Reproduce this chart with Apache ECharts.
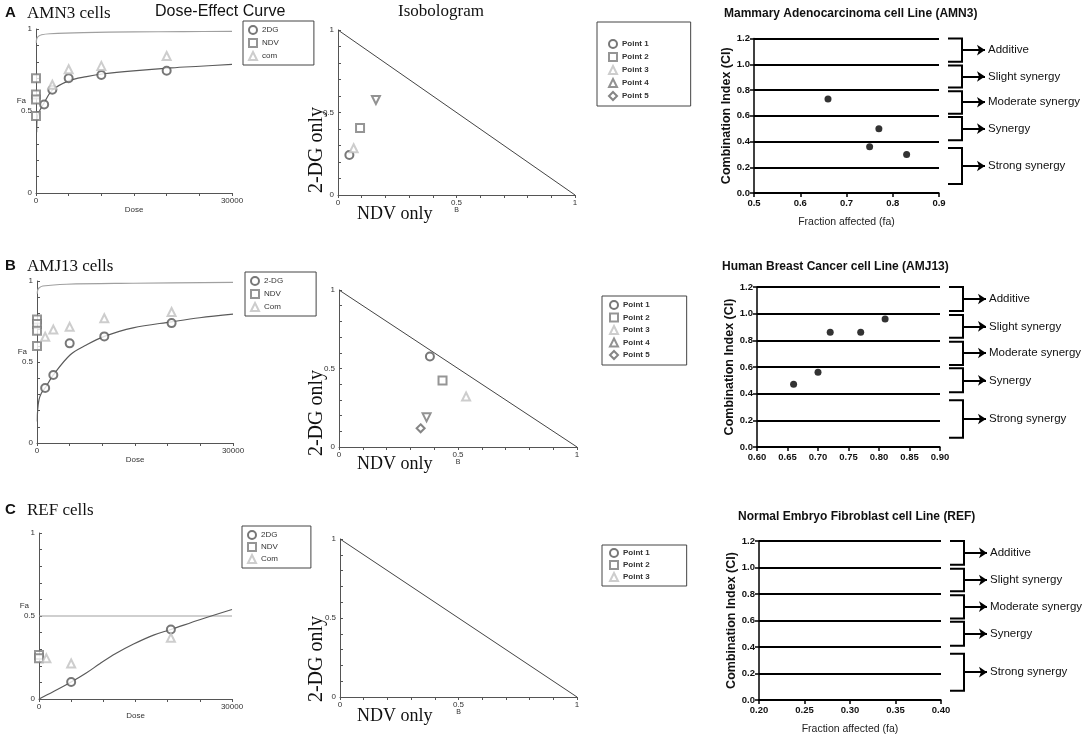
<!DOCTYPE html>
<html>
<head>
<meta charset="utf-8">
<script src="https://cdn.jsdelivr.net/npm/echarts@6/dist/echarts.min.js"></script>
<style>
html, body { margin: 0; padding: 0; background: #fff; }
#chart { width: 1084px; height: 742px; }
</style>
</head>
<body>
<div id="chart"></div>
<script>
// ---- dose-effect data (dose, Fa) ----
var amn3Dg = [[1250, 0.54], [2500, 0.63], [5000, 0.70], [10000, 0.72], [20000, 0.745]];
var amn3Ndv = [[0, 0.70], [0, 0.60], [0, 0.57], [0, 0.47]];
var amn3Com = [[2500, 0.66], [5000, 0.755], [10000, 0.775], [20000, 0.835]];
var amn3Fit = [[100, 0.37], [200, 0.465], [600, 0.505], [1250, 0.55], [2500, 0.627], [5000, 0.684], [7750, 0.71], [10400, 0.727], [14900, 0.745], [20700, 0.763], [25100, 0.773], [30000, 0.784]];
var amn3Upper = [[50, 0.914], [100, 0.939], [360, 0.955], [870, 0.965], [2150, 0.971], [7250, 0.978], [14900, 0.982], [22600, 0.984], [30000, 0.986]];

var amj13Dg = [[1250, 0.34], [2500, 0.42], [5000, 0.615], [10300, 0.658], [20600, 0.74]];
var amj13Ndv = [[0, 0.762], [0, 0.734], [0, 0.693], [0, 0.598]];
var amj13Com = [[1250, 0.656], [2500, 0.70], [5000, 0.717], [10300, 0.77], [20600, 0.809]];
var amj13Fit = [[50, 0.133], [100, 0.205], [300, 0.266], [660, 0.307], [1250, 0.34], [2500, 0.42], [5100, 0.545], [7550, 0.605], [10300, 0.658], [14700, 0.711], [20600, 0.748], [24900, 0.773], [30000, 0.795]];
var amj13Upper = [[50, 0.922], [100, 0.943], [300, 0.957], [900, 0.969], [4500, 0.98], [14700, 0.986], [30000, 0.992]];

var refDg = [[5000, 0.102], [20500, 0.419]];
var refNdv = [[0, 0.265], [0, 0.245]];
var refCom = [[1150, 0.245], [5000, 0.214], [20500, 0.369]];
var refFit = [[0, 0], [2200, 0.044], [5000, 0.102], [7400, 0.158], [9500, 0.214], [12000, 0.275], [14700, 0.331], [17800, 0.385], [20500, 0.419], [25100, 0.479], [30000, 0.539]];
var refUpper = [[0, 0.5], [30000, 0.5]];

// ---- isobologram points (NDV fraction, 2-DG fraction) ----
var amn3IsoNdv = [0.048, 0.093, 0.066, 0.16];
var amn3IsoDg = [0.242, 0.406, 0.283, 0.576];
var amj13IsoNdv = [0.382, 0.435, 0.534, 0.368, 0.343];
var amj13IsoDg = [0.576, 0.424, 0.322, 0.189, 0.119];
var refIsoNdv = [];
var refIsoDg = [];
var additivity = [[0, 1], [1, 0]];

// ---- combination index ----
var amn3Fa = [0.66, 0.77, 0.75, 0.83];
var amn3Ci = [0.73, 0.50, 0.36, 0.30];
var amj13Fa = [0.66, 0.70, 0.72, 0.77, 0.81];
var amj13Ci = [0.47, 0.56, 0.86, 0.86, 0.96];
var refFa = [];
var refCi = [];

var bandLabels = ['Additive', 'Slight synergy', 'Moderate synergy', 'Synergy', 'Strong synergy'];
var bandTop = [1.2, 0.99, 0.79, 0.59, 0.35];
var bandBottom = [1.02, 0.82, 0.615, 0.41, 0.07];
var bandArrow = [1.11, 0.905, 0.705, 0.5, 0.21];

var SANS = '"Liberation Sans", Arial, sans-serif';
var SERIF = '"Liberation Serif", "Times New Roman", serif';

var grid = [], xAxis = [], yAxis = [], series = [], legend = [], title = [], graphic = [];

function keepLabels(keep) {
  return function (v) {
    for (var i = 0; i < keep.length; i++) {
      if (Math.abs(v - keep[i]) < 1e-6) return String(keep[i]);
    }
    return '';
  };
}

function smallAxis(gi, opts) {
  return Object.assign({
    gridIndex: gi, type: 'value', nameMoveOverlap: false,
    axisLine: { lineStyle: { color: '#555', width: 1 } },
    axisTick: { length: 3, lineStyle: { color: '#555' } },
    axisLabel: { fontSize: 8, color: '#333', fontFamily: SANS, margin: 4 },
    splitLine: { show: false },
    nameTextStyle: { fontSize: 8, color: '#333', fontFamily: SANS }
  }, opts);
}

function addGrid(box) {
  grid.push({ left: box[0], top: box[1], width: box[2], height: box[3] });
  return grid.length - 1;
}

function addDosePanel(box, names, dg, ndv, com, fit, upper, lg) {
  var gi = addGrid(box);
  var xa = smallAxis(gi, { min: 0, max: 30000, interval: 5000, name: 'Dose', nameLocation: 'middle', nameGap: 13 });
  xa.axisLabel = Object.assign({}, xa.axisLabel, { formatter: keepLabels([0, 30000]) });
  var ya = smallAxis(gi, {
    min: 0, max: 1, interval: 0.1, name: 'Fa', nameLocation: 'middle', nameRotate: 0, nameGap: 10,
    nameTextStyle: { fontSize: 8, color: '#333', fontFamily: SANS, verticalAlign: 'bottom', padding: [0, 0, 6, 0] }
  });
  ya.axisTick = { inside: true, length: 3, lineStyle: { color: '#555' } };
  ya.axisLabel = Object.assign({}, ya.axisLabel, { formatter: keepLabels([0, 0.5, 1]) });
  xAxis.push(xa); yAxis.push(ya);
  series.push({ type: 'line', xAxisIndex: gi, yAxisIndex: gi, data: upper, symbol: 'none', smooth: 0.35, lineStyle: { color: '#a0a0a0', width: 1.2 }, silent: true, z: 2 });
  series.push({ type: 'line', xAxisIndex: gi, yAxisIndex: gi, data: fit, symbol: 'none', smooth: 0.35, lineStyle: { color: '#5a5a5a', width: 1.2 }, silent: true, z: 2 });
  var styles = [['emptyCircle', '#555', dg], ['emptyRect', '#7a7a7a', ndv], ['emptyTriangle', '#c0c0c0', com]];
  styles.forEach(function (s, k) {
    series.push({ type: 'scatter', name: names[k], xAxisIndex: gi, yAxisIndex: gi, data: s[2], symbol: s[0], symbolSize: 8, itemStyle: { color: s[1] }, z: 3 });
  });
  legend.push({
    left: lg[0], top: lg[1], orient: 'vertical', data: names, itemWidth: 8, itemHeight: 8, itemGap: lg[2],
    padding: [4, lg[3], 4, 5], borderColor: '#444', borderWidth: 1, selectedMode: false,
    textStyle: { fontSize: 8, color: '#333', fontFamily: SANS }
  });
}

var isoStyles = [['emptyCircle', '#555', 0], ['emptyRect', '#7a7a7a', 0], ['emptyTriangle', '#c0c0c0', 0], ['emptyTriangle', '#777', 180], ['emptyDiamond', '#666', 0]];

function addIsoPanel(box, ndv, dg, count, lg) {
  var gi = addGrid(box);
  var xa = smallAxis(gi, { min: 0, max: 1, interval: 0.1, name: 'B', nameLocation: 'middle', nameGap: 12, nameTextStyle: { fontSize: 7, color: '#333', fontFamily: SANS } });
  xa.axisLabel = Object.assign({}, xa.axisLabel, { formatter: keepLabels([0, 0.5, 1]) });
  var ya = smallAxis(gi, { min: 0, max: 1, interval: 0.1 });
  ya.axisTick = { inside: true, length: 3, lineStyle: { color: '#555' } };
  ya.axisLabel = Object.assign({}, ya.axisLabel, { formatter: keepLabels([0, 0.5, 1]) });
  xAxis.push(xa); yAxis.push(ya);
  series.push({ type: 'line', xAxisIndex: gi, yAxisIndex: gi, data: additivity, symbol: 'none', lineStyle: { color: '#444', width: 1 }, silent: true });
  var names = [];
  for (var k = 0; k < count; k++) {
    var s = isoStyles[k];
    names.push('Point ' + (k + 1));
    series.push({
      type: 'scatter', name: 'Point ' + (k + 1), xAxisIndex: gi, yAxisIndex: gi,
      data: k < ndv.length ? [[ndv[k], dg[k]]] : [],
      symbol: s[0], symbolRotate: s[2], symbolSize: 8, itemStyle: { color: s[1] }, z: 3
    });
  }
  legend.push({
    left: lg[0], top: lg[1], orient: 'vertical', data: names, itemWidth: 8, itemHeight: 8, itemGap: lg[2],
    padding: lg[3], borderColor: '#444', borderWidth: 1, selectedMode: false,
    textStyle: { fontSize: 8, fontWeight: 'bold', color: '#333', fontFamily: SANS }
  });
}

function addCiPanel(box, range, digits, fa, ci, showXName, heading) {
  var gi = addGrid(box);
  xAxis.push({
    gridIndex: gi, type: 'value', min: range[0], max: range[1], interval: range[2], nameMoveOverlap: false,
    name: showXName ? 'Fraction affected (fa)' : '', nameLocation: 'middle', nameGap: 24,
    nameTextStyle: { fontSize: 10.5, color: '#222', fontFamily: SANS },
    axisLine: { lineStyle: { color: '#000', width: 1.5 } },
    axisTick: { length: 4, lineStyle: { color: '#000', width: 1.5 } },
    axisLabel: { fontSize: 9.5, fontWeight: 'bold', color: '#111', fontFamily: SANS, margin: 5, formatter: function (v) { return v.toFixed(digits); } },
    splitLine: { show: false }
  });
  yAxis.push({
    gridIndex: gi, type: 'value', min: 0, max: 1.2, interval: 0.2, nameMoveOverlap: false,
    name: 'Combination Index (CI)', nameLocation: 'middle', nameGap: 21,
    nameTextStyle: { fontSize: 12.5, fontWeight: 'bold', color: '#111', fontFamily: SANS },
    axisLine: { lineStyle: { color: '#000', width: 1.5 } },
    axisTick: { length: 4, lineStyle: { color: '#000', width: 1.5 } },
    axisLabel: { fontSize: 9.5, fontWeight: 'bold', color: '#111', fontFamily: SANS, margin: 4, formatter: function (v) { return v.toFixed(1); } },
    splitLine: { show: true, lineStyle: { color: '#000', width: 2 } }
  });
  series.push({
    type: 'scatter', xAxisIndex: gi, yAxisIndex: gi, symbol: 'circle', symbolSize: 7,
    itemStyle: { color: '#000' },
    data: fa.map(function (f, i) { return [f, ci[i]]; })
  });
  title.push({
    text: heading[0], left: heading[1], top: heading[2], padding: 0,
    textStyle: { fontSize: 12, fontWeight: 'bold', color: '#111', fontFamily: SANS }
  });

  // brackets beside the plot share its CI scale
  var bi = addGrid([box[0] + box[2] + 9, box[1], 40, box[3]]);
  xAxis.push({ gridIndex: bi, type: 'value', min: 0, max: 40, show: false });
  yAxis.push({ gridIndex: bi, type: 'value', min: 0, max: 1.2, show: false });
  series.push({
    type: 'lines', coordinateSystem: 'cartesian2d', xAxisIndex: bi, yAxisIndex: bi, polyline: true, clip: false,
    silent: true, lineStyle: { color: '#000', width: 2, opacity: 1 },
    data: bandLabels.map(function (l, i) {
      return { coords: [[0, bandTop[i]], [14, bandTop[i]], [14, bandBottom[i]], [0, bandBottom[i]]] };
    })
  });
  series.push({
    type: 'lines', coordinateSystem: 'cartesian2d', xAxisIndex: bi, yAxisIndex: bi, clip: false, silent: true,
    symbol: ['none', 'arrow'], symbolSize: 8, lineStyle: { color: '#000', width: 2, opacity: 1 },
    label: { show: true, position: 'end', distance: 3, formatter: '{b}', fontSize: 11.5, color: '#111', fontFamily: SANS },
    data: bandLabels.map(function (l, i) {
      return { name: l, coords: [[14, bandArrow[i]], [37, bandArrow[i]]] };
    })
  });
}

addDosePanel([36, 29, 196, 164], ['2DG', 'NDV', 'com'], amn3Dg, amn3Ndv, amn3Com, amn3Fit, amn3Upper, [243, 21, 3, 35]);
addDosePanel([37, 281, 196, 162], ['2-DG', 'NDV', 'Com'], amj13Dg, amj13Ndv, amj13Com, amj13Fit, amj13Upper, [245, 272, 3, 33]);
addDosePanel([39, 533, 193, 166], ['2DG', 'NDV', 'Com'], refDg, refNdv, refCom, refFit, refUpper, [242, 526, 2, 33]);

addIsoPanel([338, 30, 237, 165], amn3IsoNdv, amn3IsoDg, 5, [597, 22, 3, [17, 42, 5, 11]]);
addIsoPanel([339, 290, 238, 157], amj13IsoNdv, amj13IsoDg, 5, [602, 296, 2.5, [4, 37, 5, 7]]);
addIsoPanel([340, 539, 237, 158], refIsoNdv, refIsoDg, 3, [602, 545, 2, [3, 37, 4, 7]]);

addCiPanel([754, 38.5, 185, 154.5], [0.5, 0.9, 0.1], 1, amn3Fa, amn3Ci, true, ['Mammary Adenocarcinoma cell Line (AMN3)', 724, 8]);
addCiPanel([757, 287, 183, 160], [0.6, 0.9, 0.05], 2, amj13Fa, amj13Ci, false, ['Human Breast Cancer cell Line (AMJ13)', 722, 261]);
addCiPanel([759, 541, 182, 159], [0.2, 0.4, 0.05], 2, refFa, refCi, true, ['Normal Embryo Fibroblast cell Line (REF)', 738, 511]);

// panel headings and big axis captions
function txt(x, y, text, font) {
  graphic.push({ type: 'text', x: x, y: y, silent: true, style: { text: text, font: font, fill: '#111', verticalAlign: 'middle' } });
}
txt(5, 13, 'A', 'bold 15px ' + SANS);
txt(27, 14, 'AMN3 cells', '17px ' + SERIF);
txt(155, 12, 'Dose-Effect Curve', '16px ' + SANS);
txt(398, 12, 'Isobologram', '17px ' + SERIF);
txt(5, 266, 'B', 'bold 15px ' + SANS);
txt(27, 267, 'AMJ13 cells', '17px ' + SERIF);
txt(5, 510, 'C', 'bold 15px ' + SANS);
txt(27, 511, 'REF cells', '17px ' + SERIF);
[214, 464, 716].forEach(function (y) { txt(357, y, 'NDV only', '18px ' + SERIF); });
[150, 413, 659].forEach(function (y) {
  graphic.push({ type: 'text', x: 317, y: y, rotation: Math.PI / 2, silent: true, style: { text: '2-DG only', font: '20px ' + SERIF, fill: '#111', align: 'center', verticalAlign: 'middle' } });
});

var chart = echarts.init(document.getElementById('chart'));
chart.setOption({
  animation: false,
  backgroundColor: '#fff',
  title: title,
  legend: legend,
  grid: grid,
  xAxis: xAxis,
  yAxis: yAxis,
  series: series,
  graphic: graphic
});
</script>
</body>
</html>
